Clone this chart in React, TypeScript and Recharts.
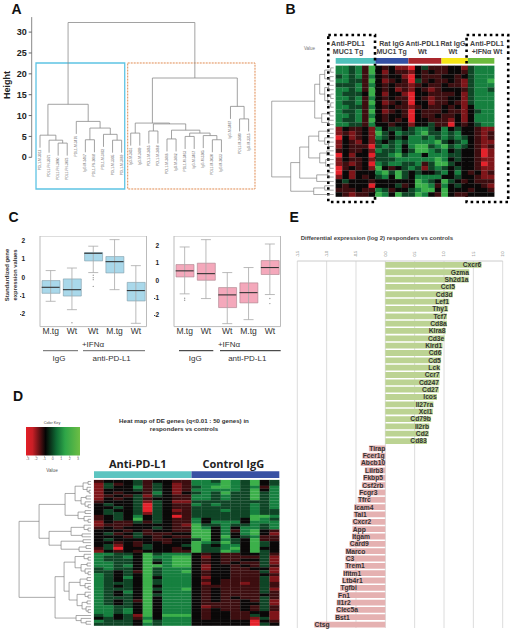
import React from "react";
import {
  ScatterChart, Scatter, XAxis, YAxis, ReferenceArea, ReferenceLine, ComposedChart, Bar, Line,
  ErrorBar, BarChart, CartesianGrid, Cell, LabelList,
} from "recharts";

const SANS = "'Liberation Sans', Arial, sans-serif";

/* ---------- Panel A data ---------- */
type Tree = number | [number, Tree, Tree];
const sampleNames = [
  "PDL1-M-3012", "PDL1-FN-3071", "PDL1-FN-3060", "PDL1-FN-3073", "PDL1-M-3476", "IgG-M-3467", "PDL1-FN-3068", "PDL1-M-3472",
  "PDL1-M-3305", "PDL1-M-3469", "IgG-M-3451", "IgG-M-3449", "PDL1-M-3465", "PDL1-M-3468", "PDL1-M-3466", "IgG-M-3462",
  "PDL1-M-3463", "IgG-M-3467", "IgG-M-3305", "PDL1-M-3030", "IgG-M-3033", "IgG-M-3487", "PDL1-M-3480", "IgG-M-3315",
];
const sampleTree: Tree = [32.3,
  [12.7, [5.3, 1, [4.1, 2, [3.4, 3, 4]]], [8.6, 5, [7, [4.2, 6, 7], [5.5, 8, [4.1, 9, 10]]]]],
  [19, [8.2, [5.8, 11, 12], [8.0, [6.3, 13, 14], [6.5, [4.4, 15, 16], [5.8, [5.0, 17, 18], [5.2, 19, [4.2, 20, 21]]]]]],
    [12.2, 22, [9.2, 23, 24]]],
];
const heightTicks = [0, 5, 10, 15, 20, 25, 30];

/* ---------- Panel B data: digit 0..6 is value -3..3 ---------- */
const heatB = [
  "554526"+"32311"+"03422"+"2331"+"4555",
  "554526"+"31322"+"13232"+"2332"+"4555",
  "454525"+"32331"+"03222"+"3323"+"4555",
  "554426"+"31232"+"04232"+"2321"+"4556",
  "444525"+"32322"+"12322"+"3221"+"4555",
  "554526"+"32312"+"13212"+"3332"+"4554",
  "544436"+"31331"+"03322"+"2231"+"4555",
  "554525"+"32322"+"03212"+"2331"+"4555",
  "544526"+"31232"+"03312"+"2321"+"4555",
  "554425"+"32322"+"12322"+"3231"+"3555",
  "544526"+"31232"+"03222"+"3221"+"3455",
  "554525"+"32332"+"03223"+"2231"+"3555",
  "544526"+"32323"+"03322"+"2131"+"3555",
  "554425"+"33233"+"13342"+"2032"+"3455",
  "132231"+"53443"+"45543"+"5343"+"3211",
  "121231"+"64354"+"45644"+"5453"+"3212",
  "031231"+"54343"+"55454"+"5454"+"3212",
  "132131"+"43454"+"55556"+"4345"+"3211",
  "132220"+"45453"+"56645"+"6454"+"3212",
  "232231"+"54453"+"46654"+"5343"+"3201",
  "031330"+"44564"+"55355"+"5443"+"3201",
  "132231"+"44455"+"55556"+"5343"+"3211",
  "121230"+"54554"+"45246"+"6433"+"3201",
  "023231"+"63234"+"54145"+"4343"+"3211",
  "031333"+"56464"+"34334"+"5353"+"2312",
  "131323"+"45364"+"35555"+"3343"+"3211",
  "343332"+"33333"+"36543"+"6432"+"3222",
  "323330"+"33342"+"36652"+"5343"+"3321",
  "222322"+"54233"+"45663"+"6333"+"2332",
  "321223"+"65364"+"46532"+"6322"+"3333",
];
const geneTreeB: Tree = [62,
  [19, [14, [9, [3, 0, 1], [4, 2, 3]], [9, [5, 4, 5], [6, [3, 6, 7], [3, 8, 9]]]], [12, [4, 10, 11], [5, 12, 13]]],
  [43, [34, [25, [15, [6, 14, 15], [9, 16, [5, 17, 18]]], [14, [7, 19, 20], [8, 21, [4, 22, 23]]]], [17, [6, 24, 25], 26]], [20, [9, 27, 28], 29]],
];
const groupNamesB = ["Anti-PDL1 MUC1 Tg", "Rat IgG MUC1 Tg", "Anti-PDL1 Wt", "Rat IgG Wt", "Anti-PDL1 +IFNα Wt"];
const groupSizesB = [6, 5, 5, 4, 4];
const groupColorsB = ["#4fc1bb", "#3450a4", "#a9262c", "#f5e616", "#6cbb3c"];

/* ---------- Panel C data ---------- */
const boxLabels = ["M.tg", "Wt", "Wt", "M.tg", "Wt"];
const blueLow = [-1.32, -1.78, 0.26, -0.68, -2.53];
const blueQ1 = [-0.88, -1.03, 0.9, 0.24, -1.3];
const blueMed = [-0.55, -0.68, 1.32, 0.86, -0.73];
const blueQ3 = [-0.18, -0.09, 1.36, 1.14, -0.28];
const blueHigh = [0.37, 0.51, 1.71, 2.07, 0.64];
const blueOutliers: (number | null)[][] = [[null, -2.5, 0.11, null, null], [null, null, -0.02, null, null], [null, null, -0.13, null, null], [null, null, -0.5, null, null]];
const pinkLow = [-0.78, -1.05, -2.49, -2.26, -0.82];
const pinkQ1 = [0.19, 0, -1.57, -1.3, 0.33];
const pinkMed = [0.54, 0.38, -0.84, -0.71, 0.73];
const pinkQ3 = [0.9, 0.98, -0.42, -0.15, 1.13];
const pinkHigh = [1.91, 2.33, 0.44, 0.73, 2.08];
const pinkOutliers: (number | null)[][] = [[-1.03, null, null, null, -1.05], [-1.15, null, null, null, -1.34]];

/* ---------- Panel D data ---------- */
const heatD = [
  "2333423322"+"554654634", "1423424312"+"555654634", "1433524312"+"456654525", "1333424312"+"555554635",
  "1323325313"+"454644645", "1232414322"+"554544645", "1323423322"+"554544645", "2333414311"+"444444445",
  "3433404322"+"545444545", "3343404322"+"444444545", "3433404312"+"444544544", "3443414322"+"444444544",
  "2343534302"+"444444665", "2343634322"+"534443654", "1322424322"+"535553555", "1222333321"+"644544545",
  "2323334322"+"653535545", "3332323322"+"663525632", "3423422233"+"663535631", "3332432322"+"663634522",
  "3433332233"+"463543622", "3323233233"+"654643643", "3413243334"+"643553643", "2403343323"+"644563633",
  "1323233322"+"644653643",
  "5544364555"+"323223342", "5445365566"+"313222241", "5444364566"+"323223341", "5544363566"+"323232241",
  "5545366566"+"313323242", "4544364555"+"313322331", "4434264556"+"323322241", "5434364555"+"323322232",
  "5435363555"+"313322241", "5434364555"+"323222241", "5444364555"+"313221242", "5434363555"+"322222242",
  "5444364556"+"323222241", "5435363555"+"323222242", "5434364555"+"323222232", "5444363555"+"323232242",
  "5434263555"+"323223241", "5434363555"+"322223341", "5544363555"+"312223242", "5545363555"+"323223242",
  "5545363555"+"323322331", "4534163666"+"323322431", "3434253555"+"323322141", "5444364555"+"333333032",
  "4444354555"+"333333043",
];
const geneTreeD: Tree = [72,
  [52,
    [26, [16, [8, [3, 0, 1], [4, 2, [2, 3, 4]]], [10, [5, 5, 6], [6, 7, [3, 8, 9]]]], [13, [6, 10, 11], [7, 12, [3, 13, 14]]]],
    [42, [20, [7, 15, [3, 16, 17]], [9, 18, 19]], [30, [8, 20, 21], [12, [5, 22, 23], 24]]]],
  [36,
    [27, [16, [7, 25, [3, 26, 27]], [10, [4, 28, 29], [6, 30, [3, 31, 32]]]],
      [22, [11, [4, 33, 34], [6, 35, [3, 36, 37]]], [14, [6, 38, [3, 39, 40]], [9, [4, 41, 42], [5, 43, [3, 44, 45]]]]]],
    [15, 46, [10, 47, [5, 48, 49]]]],
];
const groupNamesD = ["Anti-PD-L1", "Control IgG"];
const groupSizesD = [10, 9];
const groupColorsD = ["#5cc4c0", "#3851a3"];
const keyTicks = [-3, -2, -1, 0, 1, 2, 3];

/* ---------- Panel E data ---------- */
const genes = [
  "Cxcr6", "Gzma", "Sh2d1a", "Ccl5", "Cd3d", "Lef1", "Thy1", "Tcf7", "Cd8a", "Klra8", "Cd3e", "Klrd1", "Cd6", "Cd5", "Lck", "Ccr7", "Cd247", "Cd27", "Icos", "Il27ra", "Xcl1", "Cd79b", "Il2rb", "Cd2", "Cd83",
  "Tirap", "Fcer1g", "Abcb10", "Lilrb3", "Fkbp5", "Csf2rb", "Fcgr3", "Tfrc", "Icam4", "Tal1", "Cxcr2", "App", "Itgam", "Card9", "Marco", "C3", "Trem1", "Ifitm1", "Ltb4r1", "Tgfbi", "Fn1", "Il1r2", "Clec5a", "Bst1", "Ctsg",
];
const log2Change = [
  1.64, 1.43, 1.42, 1.19, 1.15, 1.09, 1.07, 1.05, 1.05, 1.03, 1.01, 0.975, 0.96, 0.95, 0.935, 0.93, 0.92, 0.91, 0.88, 0.82, 0.81, 0.78, 0.75, 0.74, 0.71,
  -0.28, -0.39, -0.42, -0.35, -0.38, -0.4, -0.45, -0.47, -0.53, -0.54, -0.56, -0.56, -0.57, -0.61, -0.68, -0.68, -0.69, -0.72, -0.74, -0.77, -0.81, -0.83, -0.84, -0.86, -1.21,
];
const changeTicks = [-1.5, -1, -0.5, 0, 0.5, 1, 1.5, 2];

/* ---------- helpers ---------- */
const palette = ["#e4222b", "#7e1519", "#3d0e10", "#0a0808", "#0f4526", "#16803f", "#3cb04a"];
type Seg = { p: number; h: number }[];
function walkTree(node: Tree, hang: number | null, segs: Seg[]): { pos: number; h: number | null } {
  if (typeof node === "number") return { pos: node, h: null };
  const [H, a, b] = node;
  const l = walkTree(a, hang, segs);
  const r = walkTree(b, hang, segs);
  const end = hang === null ? 0 : H - hang;
  segs.push([
    { p: l.pos, h: l.h ?? end }, { p: l.pos, h: H }, { p: r.pos, h: H }, { p: r.pos, h: r.h ?? end },
  ]);
  return { pos: (l.pos + r.pos) / 2, h: H };
}
const noDot = () => <g />;

function treeLine(points: { x: number; y: number }[], i: number, stroke = "#777", w = 0.7) {
  return (
    <Scatter key={"t" + i} data={points} shape={noDot} line={{ stroke, strokeWidth: w }} isAnimationActive={false} />
  );
}

function Abs({ left, top, children }: { left: number; top: number; children: React.ReactNode }) {
  return <div style={{ position: "absolute", left, top }}>{children}</div>;
}

/* ---------- Panel A ---------- */
function PanelA() {
  const segs: Seg[] = [];
  walkTree(sampleTree, 3, segs);
  const leaves: { x: number; y: number; name: string }[] = [];
  segs.forEach((s) => {
    [s[0], s[3]].forEach((q) => {
      if (Number.isInteger(q.p) && q.h === s[1].h - 3) leaves.push({ x: q.p, y: q.h, name: sampleNames[q.p - 1] });
    });
  });
  const lo = 0.085, hi = 24.9;
  return (
    <Abs left={0} top={15}>
      <ScatterChart width={258} height={175} margin={{ top: 0, right: 1.2, bottom: 0, left: 0 }}>
        <XAxis type="number" dataKey="x" domain={[lo, hi]} hide />
        <YAxis type="number" dataKey="y" domain={[-7.84, 34.1]} ticks={heightTicks} width={31.7} axisLine={false} tickSize={3}
          tickLine={{ stroke: "#666" }} tick={{ fontSize: 9, fontWeight: 700, fontFamily: SANS, fill: "#222" }} interval={0} />
        <ReferenceLine segment={[{ x: lo, y: 0 }, { x: lo, y: 33.6 }]} stroke="#888" />
        <ReferenceArea x1={0.56} x2={10.34} y1={-7.6} y2={22.6} fill="none" stroke="#5ec3e4" strokeWidth={1.3} />
        <ReferenceArea x1={10.67} x2={24.7} y1={-7.6} y2={22.6} fill="none" stroke="#e08a50" strokeWidth={1} strokeDasharray="2 1" />
        {segs.map((s, i) => treeLine(s.map((q) => ({ x: q.p, y: q.h })), i, "#8a8a8a", 0.8))}
        <Scatter data={leaves} isAnimationActive={false}
          shape={(p: any) => (
            <text transform={`translate(${p.cx + 1},${p.cy + 2}) rotate(-90)`} textAnchor="end"
              fontSize={3.3} fontFamily={SANS} fill="#666">{p.payload?.name ?? p.name}</text>
          )} />
      </ScatterChart>
    </Abs>
  );
}

/* ---------- Heatmaps ---------- */
function cellsOf(rows: string[]) {
  const out: { x: number; y: number; v: number }[] = [];
  rows.forEach((row, r) => row.split("").forEach((d, c) => out.push({ x: c + 0.5, y: r + 0.5, v: Number(d) - 3 })));
  return out;
}

function PanelHeat(props: {
  left: number; top: number; width: number; height: number; x0: number; y0: number; cw: number; rh: number;
  rows: string[]; tree: Tree; sizes: number[]; colors: string[]; strip: [number, number]; extra?: React.ReactNode;
}) {
  const { left, top, width, height, x0, y0, cw, rh, rows, tree, sizes, colors, strip } = props;
  const segs: Seg[] = [];
  walkTree(tree, null, segs);
  const xDom: [number, number] = [(left - x0) / cw, (left + width - x0) / cw];
  const yDom: [number, number] = [(top - y0) / rh, (top + height - y0) / rh];
  const toX = (h: number) => -0.3 - h / cw;
  const starts = sizes.map((_, i) => sizes.slice(0, i).reduce((a, b) => a + b, 0));
  return (
    <Abs left={left} top={top}>
      <ScatterChart width={width} height={height} margin={{ top: 0, right: 0, bottom: 0, left: 0 }}>
        <XAxis type="number" dataKey="x" domain={xDom} hide />
        <YAxis type="number" dataKey="y" domain={yDom} reversed hide />
        {sizes.map((n, i) => (
          <ReferenceArea key={i} x1={starts[i]} x2={starts[i] + n} y1={(strip[0] - y0) / rh} y2={(strip[1] - y0) / rh} fill={colors[i]} fillOpacity={1} stroke="none" />
        ))}
        {segs.map((s, i) => treeLine(s.map((q) => ({ x: toX(q.h), y: q.p + 0.5 })), i, "#707070", 0.6))}
        <Scatter data={cellsOf(rows)} isAnimationActive={false}
          shape={(p: any) => (
            <rect x={p.cx - cw / 2 - 0.1} y={p.cy - rh / 2 - 0.1} width={cw + 0.2} height={rh + 0.2} fill={palette[(p.payload?.v ?? p.v) + 3]} />
          )} />
        {props.extra}
      </ScatterChart>
    </Abs>
  );
}

/* ---------- Panel C ---------- */
function boxTable(lo: number[], q1: number[], med: number[], q3: number[], hi: number[], out: (number | null)[][]) {
  return boxLabels.map((_, i) => ({
    id: i, q: [q1[i], q3[i]], med: med[i], err: [med[i] - lo[i], hi[i] - med[i]],
    o0: out[0]?.[i] ?? null, o1: out[1]?.[i] ?? null, o2: out[2]?.[i] ?? null, o3: out[3]?.[i] ?? null,
  }));
}

function BoxPanel({ left, data, domain, ticks, fill, stroke }: {
  left: number; data: any[]; domain: [number, number]; ticks: number[]; fill: string; stroke: string;
}) {
  return (
    <Abs left={left} top={235.7}>
      <ComposedChart width={130.5} height={104} data={data} margin={{ top: 0, right: 0, bottom: 0, left: 0 }} barCategoryGap="0%">
        <XAxis dataKey="id" type="category" padding={{ left: 4, right: 4 }} tickLine={false} axisLine={false} height={13.4} interval={0} tickSize={0} tickMargin={1.5}
          tickFormatter={(i: number) => boxLabels[i]} tick={{ fontSize: 8.5, fontFamily: SANS, fill: "#333" }} />
        <YAxis type="number" domain={domain} ticks={ticks} width={16} axisLine={false} tickLine={false} tickMargin={5} interval={0}
          tick={{ fontSize: 6.5, fontWeight: 700, fontFamily: SANS, fill: "#222" }} />
        <ReferenceArea y1={domain[0]} y2={domain[1]} fill="none" stroke="#bbb" strokeWidth={1} />
        <Line dataKey="med" stroke="none" dot={false} isAnimationActive={false}>
          <ErrorBar dataKey="err" width={5} stroke="#aaa" strokeWidth={0.8} isAnimationActive={false} />
        </Line>
        <Bar dataKey="q" fill={fill} stroke={stroke} strokeWidth={0.6} barSize={18} isAnimationActive={false} />
        <Line dataKey="med" stroke="none" isAnimationActive={false}
          dot={(p: any) => <line key={p.index} x1={p.cx - 9} x2={p.cx + 9} y1={p.cy} y2={p.cy} stroke="#333" strokeWidth={1.1} />} />
        {["o0", "o1", "o2", "o3"].map((k) => (
          <Line key={k} dataKey={k} stroke="none" dot={{ r: 0.7, fill: "#999", stroke: "none" }} isAnimationActive={false} />
        ))}
      </ComposedChart>
    </Abs>
  );
}

/* ---------- Panel E ---------- */
function PanelE() {
  const data = genes.map((g, i) => ({ gene: g, change: log2Change[i] }));
  return (
    <Abs left={290} top={240}>
      <BarChart width={222} height={392} layout="vertical" data={data} margin={{ top: 0, right: 9.3, bottom: 4, left: 7.3 }} barCategoryGap="20%">
        <CartesianGrid horizontal={false} stroke="#dcdcdc" />
        <XAxis type="number" orientation="top" domain={[-1.5, 2]} ticks={changeTicks} height={21} interval={0} tickLine={false} stroke="#ccc"
          tick={(p: any) => (
            <text transform={`translate(${p.x + 1.2},${14}) rotate(-90)`} textAnchor="middle" fontSize={3.6} fontFamily={SANS} fill="#666">
              {Number(p.payload.value).toFixed(1)}
            </text>
          )} />
        <YAxis type="category" dataKey="gene" hide />
        <Bar dataKey="change" barSize={5.8} isAnimationActive={false}>
          {data.map((d, i) => <Cell key={i} fill={d.change > 0 ? "#bcd393" : "#e5b1b1"} />)}
          <LabelList dataKey="gene" content={(p: any) => {
            const pos = p.width >= 0;
            return (
              <text x={p.x + p.width + (pos ? -0.3 : 0.3)} y={p.y + p.height / 2 + 2.4} textAnchor={pos ? "end" : "start"}
                fontSize={6.7} fontWeight={700} fontFamily={SANS} fill="#333">{p.value}</text>
            );
          }} />
        </Bar>
      </BarChart>
    </Abs>
  );
}

/* ---------- Colour key ---------- */
function ColorKey() {
  const pts = keyTicks.map((k) => ({ x: k, y: 0.5 }));
  return (
    <Abs left={25.7} top={427.3}>
      <ScatterChart width={54.3} height={38} margin={{ top: 0, right: 0, bottom: 0, left: 0 }}>
        <XAxis type="number" dataKey="x" domain={[-3.2, 3.27]} ticks={keyTicks} height={9.6} interval={0} tickSize={2} tickMargin={0}
          axisLine={false} tickLine={{ stroke: "#888", strokeWidth: 0.5 }} tick={{ fontSize: 3.6, fontFamily: SANS, fill: "#666" }} />
        <YAxis type="number" dataKey="y" domain={[0, 1]} hide />
        <ReferenceArea x1={-3.2} x2={3.27} y1={0} y2={1} fill="url(#keyGrad)" fillOpacity={1} stroke="none" />
        <Scatter data={pts} shape={noDot} isAnimationActive={false} />
      </ScatterChart>
    </Abs>
  );
}

/* ---------- Text overlay ---------- */
function T(props: any) {
  const { x, y, size, bold, color = "#222", anchor = "middle", rotate, family = SANS, children } = props;
  return (
    <text x={rotate ? 0 : x} y={rotate ? 0 : y} transform={rotate ? `translate(${x},${y}) rotate(${rotate})` : undefined} fontSize={size}
      fontWeight={bold ? 700 : 400} fill={color} textAnchor={anchor} fontFamily={family}>{children}</text>
  );
}

function Overlay() {
  const Hr = (x1: number, x2: number, c: string) => <line x1={x1} x2={x2} y1={350.7} y2={350.7} stroke={c} strokeWidth={1} />;
  const lab = (x: number, a: string, b: string) => (
    <g>
      <T x={x} y={46} size={7} bold color="#444">{a}</T>
      <T x={x} y={54} size={7} bold color="#444">{b}</T>
    </g>
  );
  return (
    <svg width={512} height={632} style={{ position: "absolute", left: 0, top: 0, pointerEvents: "none" }}>
      <defs>
        <linearGradient id="keyGrad" x1="0" x2="1" y1="0" y2="0">
          <stop offset="0" stopColor="#e31e26" />
          <stop offset="0.12" stopColor="#c81f26" />
          <stop offset="0.36" stopColor="#050505" />
          <stop offset="0.56" stopColor="#0f6a34" />
          <stop offset="0.72" stopColor="#2ea548" />
          <stop offset="1" stopColor="#6ebe44" />
        </linearGradient>
      </defs>
      <T x={11.5} y={14} size={14} bold anchor="start" color="#111">A</T>
      <T x={285.5} y={14} size={14} bold anchor="start" color="#111">B</T>
      <T x={8.5} y={222} size={14} bold anchor="start" color="#111">C</T>
      <T x={13} y={401} size={14} bold anchor="start" color="#111">D</T>
      <T x={289.5} y={222} size={14} bold anchor="start" color="#111">E</T>

      <T x={10} y={85} size={9} bold rotate={-90}>Height</T>

      <T x={309.5} y={50} size={4.5} color="#777">Value</T>
      {lab(348, "Anti-PDL1", "MUC1 Tg")}
      {lab(391.7, "Rat IgG", "MUC1 Tg")}
      {lab(422.5, "Anti-PDL1", "Wt")}
      {lab(453, "Rat IgG", "Wt")}
      {lab(487, "Anti-PDL1", "+IFNα Wt")}

      <T x={9} y={275} size={5.9} bold rotate={-90} color="#333">Standardized gene</T>
      <T x={16.5} y={275} size={5.9} bold rotate={-90} color="#333">expression values</T>
      <T x={93} y={346.5} size={8} color="#333">+IFNα</T>
      <T x={229} y={346.5} size={8} color="#333">+IFNα</T>
      {Hr(43, 78, "#666")}{Hr(83, 145, "#666")}{Hr(179, 213.3, "#222")}{Hr(220, 280.7, "#222")}
      <T x={59} y={361} size={8} color="#333">IgG</T>
      <T x={111.7} y={361} size={8} color="#333">anti-PD-L1</T>
      <T x={195.3} y={361} size={8} color="#333">IgG</T>
      <T x={247.3} y={361} size={8} color="#333">anti-PD-L1</T>

      <T x={52} y={424} size={3.8} color="#444">Color Key</T>
      <T x={52} y={471.5} size={4.6} color="#555">Value</T>
      <T x={184} y={422.8} size={6.2} bold color="#333">Heat map of DE genes (q&lt;0.01 : 50 genes) in</T>
      <T x={184} y={431.2} size={6.2} bold color="#333">responders vs controls</T>
      <T x={137.7} y={467.7} size={11} bold color="#222" family="'Open Sans', sans-serif">{groupNamesD[0]}</T>
      <T x={233.3} y={467.7} size={11} bold color="#222" family="'Open Sans', sans-serif">{groupNamesD[1]}</T>

      <T x={300.7} y={239.8} size={6} bold anchor="start" color="#444">Differential expression (log 2) responders vs controls</T>
    </svg>
  );
}

const blueData = boxTable(blueLow, blueQ1, blueMed, blueQ3, blueHigh, blueOutliers);
const pinkData = boxTable(pinkLow, pinkQ1, pinkMed, pinkQ3, pinkHigh, pinkOutliers);

const dashBoxes = [
  <ReferenceArea key="l" x1={-1.12} x2={5.95} y1={-7.03} y2={31.2} fill="none" stroke="#000" strokeWidth={2.6} strokeDasharray="2.6 3.2" />,
  <ReferenceArea key="r" x1={19.8} x2={26.1} y1={-7.03} y2={31.2} fill="none" stroke="#000" strokeWidth={2.6} strokeDasharray="2.6 3.2" />,
];

export default function App() {
  return (
    <div data-groups={groupNamesB.join("|")} style={{ position: "absolute", left: 0, top: 0, width: 512, height: 632, background: "#fff", overflow: "hidden" }}>
      <PanelA />
      <PanelHeat left={265} top={30} width={247} height={176} x0={335.7} y0={65.7} cw={6.61} rh={4.367} rows={heatB} tree={geneTreeB}
        sizes={groupSizesB} colors={groupColorsB} strip={[58, 63.7]} extra={dashBoxes} />
      <BoxPanel left={20} data={blueData} domain={[-2.71, 2.27]} ticks={[-2, -1, 0, 1, 2]} fill="#a9d8ea" stroke="#7f9aa6" />
      <BoxPanel left={154.3} data={pinkData} domain={[-2.66, 2.54]} ticks={[-2, -1, 0, 1, 2]} fill="#f4a8bb" stroke="#a87f8a" />
      <ColorKey />
      <PanelHeat left={14} top={469} width={268} height={159} x0={94} y0={480} cw={9.753} rh={2.914} rows={heatD} tree={geneTreeD}
        sizes={groupSizesD} colors={groupColorsD} strip={[471.3, 478]} />
      <PanelE />
      <Overlay />
    </div>
  );
}
